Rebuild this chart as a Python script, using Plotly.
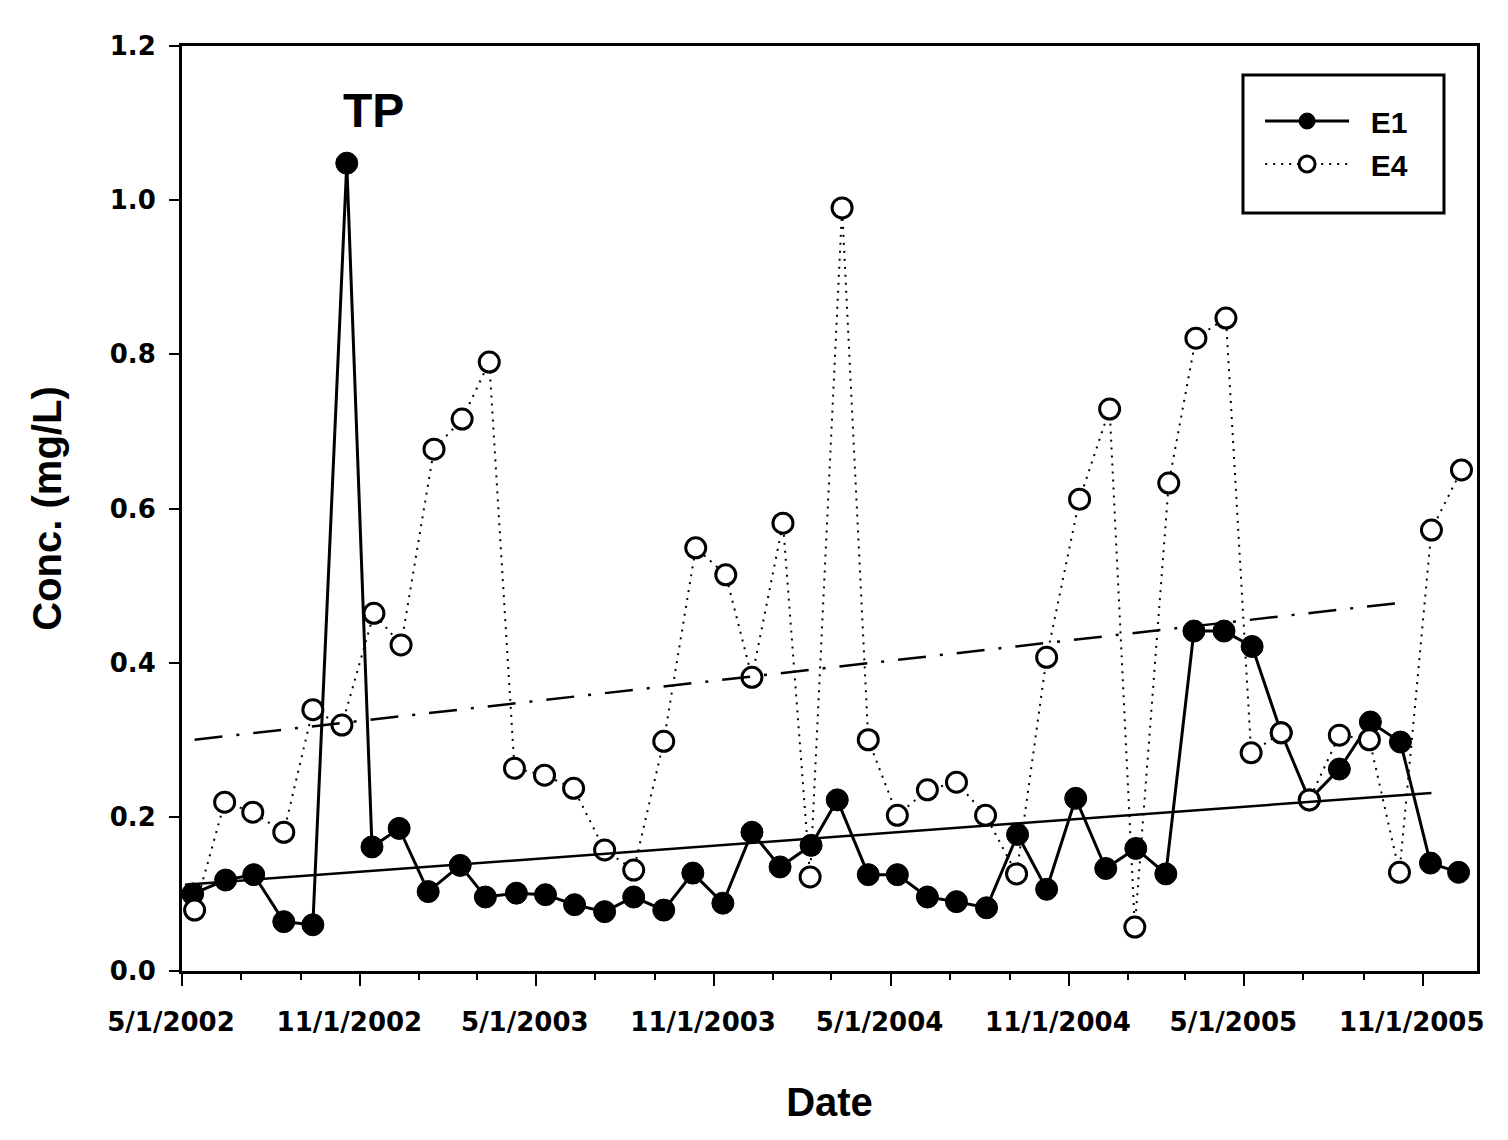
import plotly.graph_objects as go

# Monthly total phosphorus samples at stations E1 and E4
e1_dates = [
    "2002-05-12", "2002-06-15", "2002-07-14", "2002-08-14", "2002-09-13", "2002-10-18",
    "2002-11-13", "2002-12-11", "2003-01-10", "2003-02-12", "2003-03-10", "2003-04-11",
    "2003-05-11", "2003-06-10", "2003-07-11", "2003-08-10", "2003-09-10", "2003-10-10",
    "2003-11-10", "2003-12-10", "2004-01-08", "2004-02-09", "2004-03-07", "2004-04-08",
    "2004-05-08", "2004-06-08", "2004-07-08", "2004-08-08", "2004-09-09", "2004-10-09",
    "2004-11-08", "2004-12-09", "2005-01-09", "2005-02-09", "2005-03-10", "2005-04-10",
    "2005-05-09", "2005-06-08", "2005-07-07", "2005-08-07", "2005-09-08", "2005-10-09",
    "2005-11-09", "2005-12-08",
]
e1_conc = [
    0.100, 0.118, 0.125, 0.064, 0.060, 1.048, 0.161, 0.185, 0.103, 0.137, 0.096, 0.101,
    0.099, 0.086, 0.077, 0.096, 0.079, 0.127, 0.088, 0.180, 0.135, 0.163, 0.222, 0.125,
    0.125, 0.096, 0.090, 0.082, 0.177, 0.106, 0.224, 0.133, 0.159, 0.126, 0.441, 0.441,
    0.421, 0.309, 0.222, 0.262, 0.323, 0.297, 0.140, 0.128,
]

e4_dates = [
    "2002-05-14", "2002-06-14", "2002-07-13", "2002-08-14", "2002-09-13", "2002-10-13",
    "2002-11-15", "2002-12-13", "2003-01-16", "2003-02-14", "2003-03-14", "2003-04-09",
    "2003-05-10", "2003-06-09", "2003-07-11", "2003-08-10", "2003-09-10", "2003-10-13",
    "2003-11-13", "2003-12-10", "2004-01-11", "2004-02-08", "2004-03-12", "2004-04-08",
    "2004-05-08", "2004-06-08", "2004-07-08", "2004-08-07", "2004-09-08", "2004-10-09",
    "2004-11-12", "2004-12-13", "2005-01-08", "2005-02-12", "2005-03-12", "2005-04-12",
    "2005-05-08", "2005-06-08", "2005-07-07", "2005-08-07", "2005-09-07", "2005-10-08",
    "2005-11-10", "2005-12-11",
]
e4_conc = [
    0.079, 0.219, 0.206, 0.180, 0.339, 0.319, 0.464, 0.423, 0.677, 0.716, 0.790, 0.263,
    0.254, 0.237, 0.157, 0.131, 0.298, 0.549, 0.514, 0.381, 0.581, 0.122, 0.990, 0.300,
    0.202, 0.235, 0.245, 0.202, 0.126, 0.407, 0.612, 0.729, 0.057, 0.633, 0.821, 0.847,
    0.283, 0.309, 0.222, 0.306, 0.300, 0.128, 0.572, 0.650,
]

# Linear trend lines (end points)
e1_trend_dates = ["2002-05-04", "2005-11-10"]
e1_trend_conc = [0.112, 0.231]
e4_trend_dates = ["2002-05-14", "2005-10-11"]
e4_trend_conc = [0.300, 0.478]

x_range = ["2002-05-01", "2005-12-27"]
y_range = [0, 1.2]

tick_font = dict(family="DejaVu Sans", size=26, color="black", weight="bold")
title_font = dict(family="Liberation Sans, Arial", size=40, color="black", weight="bold")

fig = go.Figure()

fig.add_trace(go.Scatter(
    x=e1_dates, y=e1_conc, name="\u00a0\u00a0E1", mode="lines+markers",
    line=dict(color="black", width=3),
    marker=dict(symbol="circle", size=22, color="black", line=dict(color="black", width=1)),
    legendgroup="e1",
))
fig.add_trace(go.Scatter(
    x=e4_dates, y=e4_conc, name="\u00a0\u00a0E4", mode="lines+markers",
    line=dict(color="black", width=2, dash="2px,6px"),
    marker=dict(symbol="circle", size=20, color="white", line=dict(color="black", width=3)),
    legendgroup="e4",
))
fig.add_trace(go.Scatter(
    x=e1_trend_dates, y=e1_trend_conc, mode="lines", showlegend=False,
    line=dict(color="black", width=2.5), hoverinfo="skip",
))
fig.add_trace(go.Scatter(
    x=e4_trend_dates, y=e4_trend_conc, mode="lines", showlegend=False,
    line=dict(color="black", width=2.5, dash="28px,14px,3px,14px"), hoverinfo="skip",
))

fig.add_annotation(
    text="TP", xref="paper", yref="paper", x=0.1475, y=0.930,
    showarrow=False, font=dict(family="Liberation Sans, Arial", size=48, color="black", weight="bold"),
    xanchor="center", yanchor="middle",
)

# Frame around the legend entries
fig.add_shape(
    type="rect", xref="paper", yref="paper",
    x0=0.8193, x1=0.9745, y0=0.8195, y1=0.9686,
    line=dict(color="black", width=3), fillcolor="white", layer="above",
)

fig.update_layout(
    width=1508, height=1140,
    margin=dict(l=182, r=31, t=46, b=169),
    paper_bgcolor="white", plot_bgcolor="white",
    showlegend=True,
    legend=dict(
        x=0.8325, y=0.947, xanchor="left", yanchor="top",
        borderwidth=0, bgcolor="rgba(0,0,0,0)",
        font=dict(family="Liberation Sans, Arial", size=30, color="black", weight="bold"),
        tracegroupgap=1, traceorder="grouped", itemwidth=84,
    ),
    xaxis=dict(
        type="date", range=x_range,
        tick0="2002-05-01", dtick="M6", tickformat="%-m/%-d/%Y",
        ticks="outside", ticklen=12, tickwidth=2, tickcolor="black",
        minor=dict(dtick="M2", tick0="2002-05-01", ticks="outside", ticklen=6, tickwidth=2, tickcolor="black"),
        showline=True, linecolor="black", linewidth=3, mirror=True,
        showgrid=False, zeroline=False,
        tickfont=tick_font, ticklabelshift=-11, ticklabelstandoff=14,
        title=dict(text="Date", font=title_font, standoff=52),
    ),
    yaxis=dict(
        range=y_range, dtick=0.2, tick0=0, tickformat=".1f",
        ticks="outside", ticklen=10, tickwidth=2, tickcolor="black",
        showline=True, linecolor="black", linewidth=3, mirror=True,
        showgrid=False, zeroline=False,
        tickfont=tick_font, ticklabelstandoff=8,
        title=dict(text="Conc. (mg/L)", font=title_font, standoff=36),
    ),
)

fig.write_html("out.html")
